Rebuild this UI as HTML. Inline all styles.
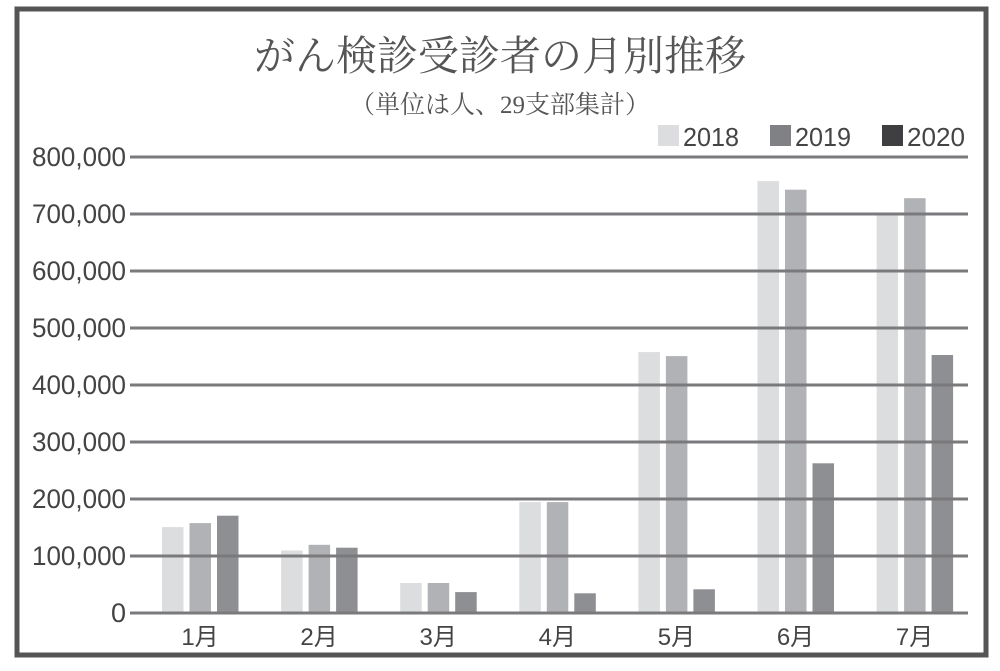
<!DOCTYPE html>
<html><head><meta charset="utf-8"><style>
html,body{margin:0;padding:0;background:#fff;}
svg{display:block;}
</style></head><body>
<svg width="1000" height="671" viewBox="0 0 1000 671" xmlns="http://www.w3.org/2000/svg">
<rect x="0" y="0" width="1000" height="671" fill="#fff"/>
<rect x="17" y="9" width="969" height="646" fill="none" stroke="#555" stroke-width="5"/>
<text x="500" y="70" text-anchor="middle" font-family="Liberation Serif, 'Noto Serif CJK SC', serif" font-size="41" fill="#555">がん検診受診者の月別推移</text>
<text x="500" y="113" text-anchor="middle" font-family="Liberation Serif, 'Noto Serif CJK SC', serif" font-size="25" fill="#555">（単位は人、29支部集計）</text>
<g font-family="Liberation Sans, sans-serif" font-size="26" fill="#444">
<rect x="658" y="125" width="21" height="21" fill="#dcdddf"/><text x="683" y="146" textLength="56" lengthAdjust="spacingAndGlyphs">2018</text>
<rect x="770" y="125" width="21" height="21" fill="#808184"/><text x="795" y="146" textLength="56" lengthAdjust="spacingAndGlyphs">2019</text>
<rect x="882" y="125" width="21" height="21" fill="#3f3f41"/><text x="907" y="146" textLength="58" lengthAdjust="spacingAndGlyphs">2020</text>
</g>
<g>
<rect x="162" y="527.1" width="21.5" height="84.4" fill="#dcdddf"/>
<rect x="189.5" y="523.1" width="21.5" height="88.4" fill="#b1b2b5"/>
<rect x="217" y="515.7" width="21.5" height="95.8" fill="#8e8f92"/>
<rect x="281.1" y="550.5" width="21.5" height="61" fill="#dcdddf"/>
<rect x="308.6" y="544.8" width="21.5" height="66.7" fill="#b1b2b5"/>
<rect x="336.1" y="547.7" width="21.5" height="63.8" fill="#8e8f92"/>
<rect x="400.2" y="583" width="21.5" height="28.5" fill="#dcdddf"/>
<rect x="427.7" y="583" width="21.5" height="28.5" fill="#b1b2b5"/>
<rect x="455.2" y="592.1" width="21.5" height="19.4" fill="#8e8f92"/>
<rect x="519.3" y="502.1" width="21.5" height="109.4" fill="#dcdddf"/>
<rect x="546.8" y="502.1" width="21.5" height="109.4" fill="#b1b2b5"/>
<rect x="574.3" y="593.3" width="21.5" height="18.2" fill="#8e8f92"/>
<rect x="638.4" y="352.1" width="21.5" height="259.4" fill="#dcdddf"/>
<rect x="665.9" y="356.1" width="21.5" height="255.4" fill="#b1b2b5"/>
<rect x="693.4" y="589.3" width="21.5" height="22.2" fill="#8e8f92"/>
<rect x="757.5" y="181.1" width="21.5" height="430.4" fill="#dcdddf"/>
<rect x="785" y="189.7" width="21.5" height="421.8" fill="#b1b2b5"/>
<rect x="812.5" y="463.3" width="21.5" height="148.2" fill="#8e8f92"/>
<rect x="876.6" y="212.5" width="21.5" height="399" fill="#dcdddf"/>
<rect x="904.1" y="198.2" width="21.5" height="413.3" fill="#b1b2b5"/>
<rect x="931.6" y="355" width="21.5" height="256.5" fill="#8e8f92"/>
</g>
<g stroke="#7a7a7c" stroke-width="3">
<line x1="130" y1="157" x2="968" y2="157"/><line x1="130" y1="214" x2="968" y2="214"/>
<line x1="130" y1="271" x2="968" y2="271"/><line x1="130" y1="328" x2="968" y2="328"/>
<line x1="130" y1="385" x2="968" y2="385"/><line x1="130" y1="442" x2="968" y2="442"/>
<line x1="130" y1="499" x2="968" y2="499"/><line x1="130" y1="556" x2="968" y2="556"/>
<line x1="130" y1="613" x2="968" y2="613"/>
</g>
<g font-family="Liberation Sans, sans-serif" font-size="27" fill="#444" text-anchor="end">
<text x="126" y="166" textLength="94" lengthAdjust="spacingAndGlyphs">800,000</text>
<text x="126" y="223" textLength="94" lengthAdjust="spacingAndGlyphs">700,000</text>
<text x="126" y="280" textLength="94" lengthAdjust="spacingAndGlyphs">600,000</text>
<text x="126" y="337" textLength="94" lengthAdjust="spacingAndGlyphs">500,000</text>
<text x="126" y="394" textLength="94" lengthAdjust="spacingAndGlyphs">400,000</text>
<text x="126" y="451" textLength="94" lengthAdjust="spacingAndGlyphs">300,000</text>
<text x="126" y="508" textLength="94" lengthAdjust="spacingAndGlyphs">200,000</text>
<text x="126" y="565" textLength="94" lengthAdjust="spacingAndGlyphs">100,000</text>
<text x="126" y="622">0</text>
</g>
<g font-family="Liberation Sans, 'Noto Sans CJK JP', sans-serif" font-size="24" fill="#444" text-anchor="middle">
<text x="200" y="645">1月</text>
<text x="319.1" y="645">2月</text>
<text x="438.2" y="645">3月</text>
<text x="557.3" y="645">4月</text>
<text x="676.4" y="645">5月</text>
<text x="795.5" y="645">6月</text>
<text x="914.6" y="645">7月</text>
</g>
</svg>
</body></html>
